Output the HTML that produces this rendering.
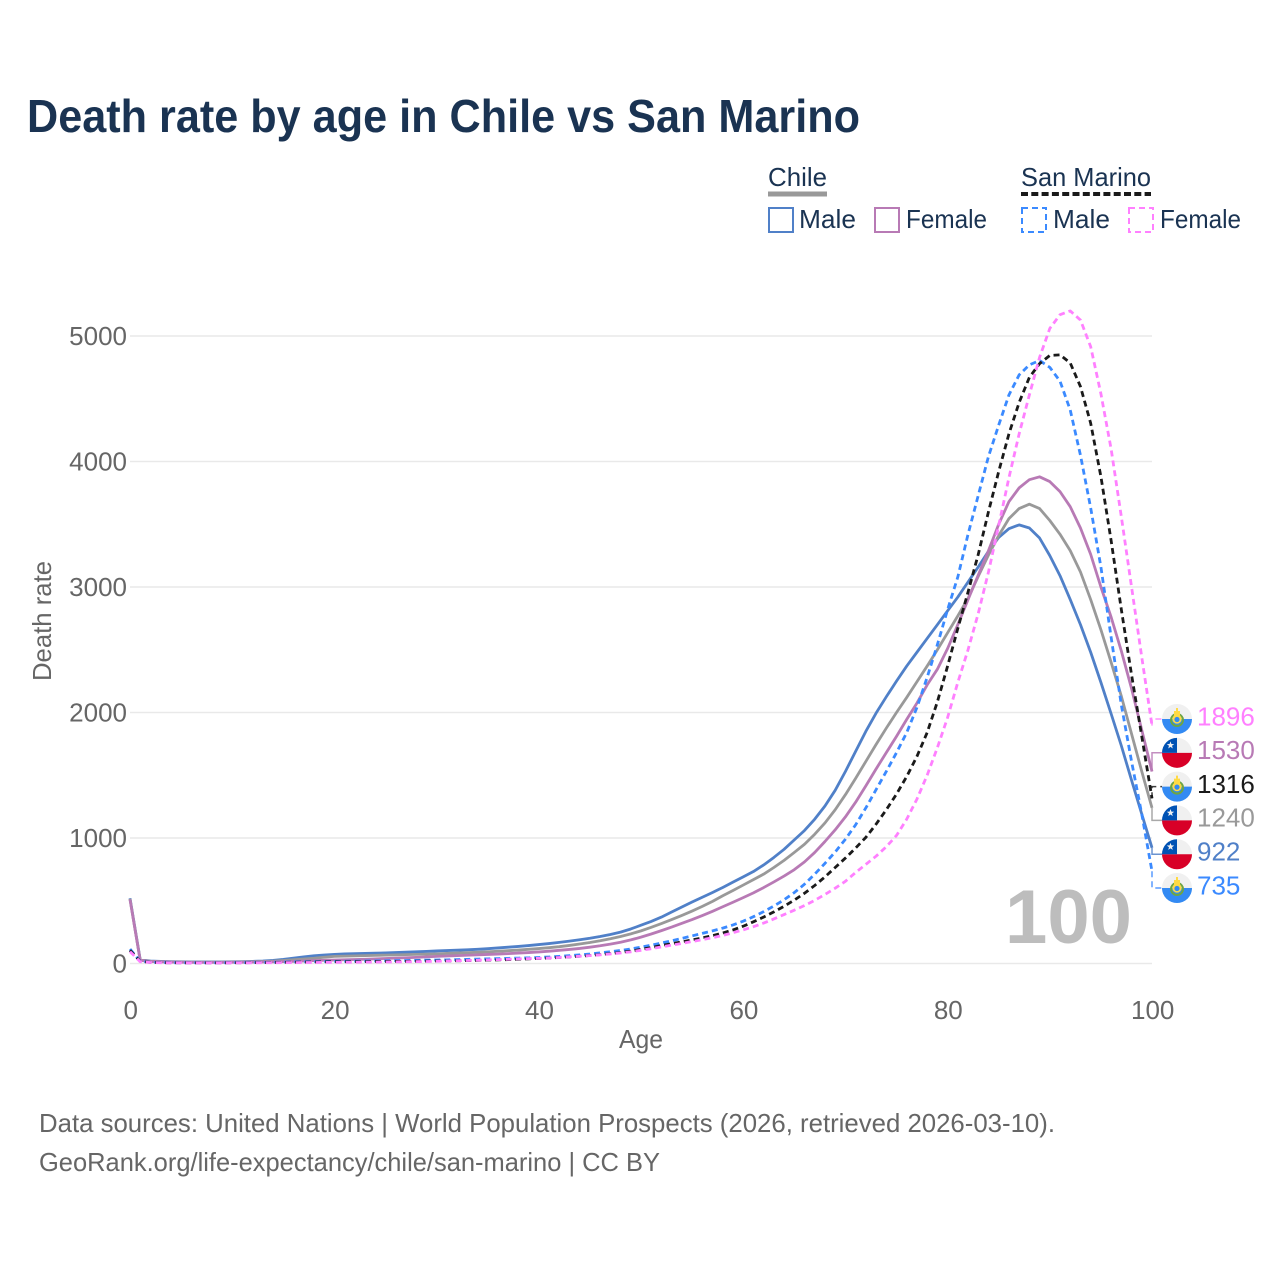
<!DOCTYPE html>
<html lang="en">
<head>
<meta charset="utf-8">
<title>Death rate by age in Chile vs San Marino</title>
<style>
html,body{margin:0;padding:0;background:#fff;}
svg{display:block;font-family:"Liberation Sans",sans-serif;}
</style>
</head>
<body>
<svg id="chart" width="1280" height="1280" viewBox="0 0 1280 1280" xmlns="http://www.w3.org/2000/svg">
  <rect x="0" y="0" width="1280" height="1280" fill="#ffffff"/>
  <text x="27" y="132" font-size="46" font-weight="700" fill="#1a3352" textLength="833" lengthAdjust="spacingAndGlyphs">Death rate by age in Chile vs San Marino</text>

  <g font-size="26" fill="#1a3352">
    <text x="768" y="186" textLength="59" lengthAdjust="spacingAndGlyphs">Chile</text>
    <line x1="768" y1="194" x2="827" y2="194" stroke="#999999" stroke-width="5"/>
    <text x="1021" y="186" textLength="130" lengthAdjust="spacingAndGlyphs">San Marino</text>
    <line x1="1021" y1="194" x2="1151" y2="194" stroke="#1a1a1a" stroke-width="4" stroke-dasharray="7 3.3"/>
    <rect x="769" y="208" width="24" height="24" fill="none" stroke="#5080c8" stroke-width="2"/>
    <text x="799" y="228" textLength="57" lengthAdjust="spacingAndGlyphs">Male</text>
    <rect x="875" y="208" width="24" height="24" fill="none" stroke="#b87ab5" stroke-width="2"/>
    <text x="906" y="228" textLength="81" lengthAdjust="spacingAndGlyphs">Female</text>
    <rect x="1022" y="208" width="24" height="24" fill="none" stroke="#3b8aff" stroke-width="2" stroke-dasharray="6 4"/>
    <text x="1053" y="228" textLength="57" lengthAdjust="spacingAndGlyphs">Male</text>
    <rect x="1129" y="208" width="24" height="24" fill="none" stroke="#ff80ff" stroke-width="2" stroke-dasharray="6 4"/>
    <text x="1160" y="228" textLength="81" lengthAdjust="spacingAndGlyphs">Female</text>
  </g>

  <g id="grid"></g>
  <g id="yticks" font-size="26" fill="#666666" text-anchor="end"></g>
  <g id="xticks" font-size="26" fill="#666666" text-anchor="middle"></g>
  <text transform="translate(51,621) rotate(-90)" text-anchor="middle" font-size="26" fill="#666666" textLength="120" lengthAdjust="spacingAndGlyphs">Death rate</text>
  <text x="641" y="1048" text-anchor="middle" font-size="26" fill="#666666" textLength="44" lengthAdjust="spacingAndGlyphs">Age</text>

  <text id="year" x="1005" y="943" font-size="76" font-weight="700" fill="#bdbdbd" textLength="127" lengthAdjust="spacingAndGlyphs"></text>
  <g id="series" fill="none"></g>
  <g id="endlabels"></g>

  <g font-size="26" fill="#666666">
    <text x="39" y="1132" textLength="1016" lengthAdjust="spacingAndGlyphs">Data sources: United Nations | World Population Prospects (2026, retrieved 2026-03-10).</text>
    <text x="39" y="1171" textLength="621" lengthAdjust="spacingAndGlyphs">GeoRank.org/life-expectancy/chile/san-marino | CC BY</text>
  </g>
</svg>

<script>
const yTickValues = [0, 1000, 2000, 3000, 4000, 5000];
const xTickValues = [0, 20, 40, 60, 80, 100];
const ages = [0,1,2,3,4,5,6,7,8,9,10,11,12,13,14,15,16,17,18,19,20,21,22,23,24,25,26,27,28,29,30,31,32,33,34,35,36,37,38,39,40,41,42,43,44,45,46,47,48,49,50,51,52,53,54,55,56,57,58,59,60,61,62,63,64,65,66,67,68,69,70,71,72,73,74,75,76,77,78,79,80,81,82,83,84,85,86,87,88,89,90,91,92,93,94,95,96,97,98,99,100];

const chileMale = [520,30,20,17,15,14,13,13,13,13,14,15,17,20,25,33,43,53,62,68,
  73,76,78,80,82,84,87,90,93,96,
  100,103,106,109,113,118,124,130,136,143,
  151,159,168,178,189,201,215,231,250,275,
  305,335,370,410,450,490,528,566,606,648,
  690,733,785,845,910,985,1060,1150,1255,1380,
  1530,1690,1850,1995,2125,2250,2370,2480,2590,2700,
  2810,2920,3040,3160,3285,3395,3465,3495,3470,3390,
  3250,3090,2900,2700,2480,2240,1990,1735,1460,1190,922];
const chileBoth = [515,27,18,15,13,12,11,11,11,11,12,13,14,16,19,24,30,36,42,50,
  57,59,61,63,65,67,69,71,73,75,
  77,80,83,86,89,93,97,102,107,113,
  119,126,134,144,155,167,181,197,215,236,
  260,288,318,350,383,418,455,495,540,582,
  625,668,712,765,822,885,950,1030,1120,1225,
  1345,1475,1610,1745,1875,2000,2120,2245,2370,2500,
  2635,2770,2910,3085,3255,3410,3545,3625,3660,3625,
  3530,3420,3290,3120,2900,2660,2400,2130,1830,1530,1240];
const chileFemale = [510,25,16,13,11,10,9,9,9,9,10,10,11,12,13,15,17,20,23,26,
  28,30,32,34,37,40,43,46,49,53,
  57,60,63,66,69,72,75,79,83,87,
  92,98,105,112,120,130,141,154,169,188,
  210,235,262,290,320,350,382,416,452,488,
  525,563,605,650,697,748,810,885,972,1065,
  1168,1285,1415,1550,1680,1810,1945,2075,2220,2345,
  2510,2700,2900,3095,3290,3500,3680,3790,3855,3878,
  3840,3760,3640,3470,3260,3000,2760,2490,2190,1860,1530];
const sanMarinoMale = [115,18,10,8,7,6,6,6,6,6,7,7,8,9,10,11,13,14,15,16,
  17,18,19,20,21,22,23,24,25,27,
  28,29,31,33,35,37,39,41,43,45,
  48,52,57,63,69,76,85,94,104,116,
  130,146,163,181,200,220,240,260,282,307,
  337,373,413,458,508,565,632,712,798,888,
  990,1105,1240,1385,1530,1680,1840,2040,2280,2540,
  2820,3080,3420,3730,4040,4290,4530,4690,4770,4805,
  4750,4640,4410,4050,3630,3160,2600,2060,1610,1190,735];
const sanMarinoBoth = [105,16,9,7,6,6,5,5,5,5,6,6,7,7,8,9,10,11,12,13,
  14,14,15,15,16,16,17,17,18,19,
  20,21,22,23,25,27,29,31,34,37,
  40,44,48,53,58,64,71,79,88,99,
  112,127,143,158,172,188,204,222,243,267,
  297,332,370,411,456,505,560,622,690,765,
  840,920,1005,1110,1225,1350,1490,1650,1840,2085,
  2370,2670,2960,3260,3600,3920,4220,4470,4670,4780,
  4845,4850,4785,4597,4305,3880,3370,2820,2300,1810,1316];
const sanMarinoFemale = [95,14,8,6,5,5,4,4,4,4,5,5,5,6,6,7,7,8,8,9,
  9,10,10,11,11,12,13,14,15,16,
  18,20,22,24,26,29,31,34,37,39,
  41,44,48,53,58,63,69,76,84,93,
  105,118,132,146,160,175,190,205,224,245,
  268,293,322,355,390,425,462,503,550,600,
  655,725,790,855,930,1020,1150,1310,1500,1720,
  1960,2240,2500,2790,3120,3490,3870,4220,4530,4830,
  5060,5170,5200,5127,4915,4540,4100,3560,3000,2440,1896];

const seriesDefs = [
  {key:'chile-male', values:chileMale, color:'#5080c8', dashed:false, flag:'chile'},
  {key:'chile-both', values:chileBoth, color:'#999999', dashed:false, flag:'chile'},
  {key:'chile-female', values:chileFemale, color:'#b87ab5', dashed:false, flag:'chile'},
  {key:'san-marino-male', values:sanMarinoMale, color:'#3b8aff', dashed:true, flag:'sanmarino'},
  {key:'san-marino-both', values:sanMarinoBoth, color:'#1a1a1a', dashed:true, flag:'sanmarino'},
  {key:'san-marino-female', values:sanMarinoFemale, color:'#ff80ff', dashed:true, flag:'sanmarino'}
];

const NS = 'http://www.w3.org/2000/svg';
const xScale = v => 130 + (v - 0) * (1152 - 130) / 100;
const yScale = v => 963.5 - v * (963.5 - 336) / 5000;

function make(tag, attrs, parent) {
  const el = document.createElementNS(NS, tag);
  for (const k in attrs) el.setAttribute(k, attrs[k]);
  parent.appendChild(el);
  return el;
}

const gridGroup = document.getElementById('grid');
const yGroup = document.getElementById('yticks');
const xGroup = document.getElementById('xticks');
const seriesGroup = document.getElementById('series');
const endGroup = document.getElementById('endlabels');

yTickValues.forEach(v => {
  const ln = make('line', {x1:xScale(0), x2:xScale(100), y1:yScale(v), y2:yScale(v), stroke:'#e9e9e9', 'stroke-width':1.5}, gridGroup);
  
  
  const t = make('text', {x:127, y:yScale(v) + 9}, yGroup);
  
  
  t.textContent = v;
});

xTickValues.forEach(v => {
  const t = make('text', {x:xScale(v) + 0.7, y:1019}, xGroup);
  
  
  t.textContent = v;
});

const yearLabel = document.getElementById('year');
yearLabel.textContent = ages[ages.length - 1];

seriesDefs.forEach(s => {
  const d = s.values.map((v, i) => (i ? 'L' : 'M') + xScale(ages[i]).toFixed(2) + ' ' + yScale(v).toFixed(2)).join('');
  const p = make('path', {d:d, stroke:s.color, 'stroke-width':2.8, 'stroke-linejoin':'round'}, seriesGroup);
  if (s.dashed) p.setAttribute('stroke-dasharray', '6 4');
  
  
});

function drawFlag(kind, cx, cy, parent) {
  const r = 15;
  const g = make('g', {}, parent);
  
  
  make('circle', {cx:cx, cy:cy, r:r, fill:'#f0f0f0'}, g);
  if (kind === 'chile') {
    make('path', {d:`M${cx-r} ${cy}A${r} ${r} 0 0 0 ${cx+r} ${cy}Z`, fill:'#d80027'}, g);
    make('path', {d:`M${cx-r} ${cy}A${r} ${r} 0 0 1 ${cx} ${cy-r}L${cx} ${cy}Z`, fill:'#0052b4'}, g);
    const sx = cx - 6.5, sy = cy - 7.5, pts = [];
    for (let i = 0; i < 10; i++) {
      const rad = i % 2 ? 1.6 : 3.9, a = -Math.PI / 2 + i * Math.PI / 5;
      pts.push((sx + rad * Math.cos(a)).toFixed(2) + ',' + (sy + rad * Math.sin(a)).toFixed(2));
    }
    make('polygon', {points:pts.join(' '), fill:'#f0f0f0'}, g);
  } else {
    make('path', {d:`M${cx-r} ${cy}A${r} ${r} 0 0 0 ${cx+r} ${cy}Z`, fill:'#338af3'}, g);
    make('circle', {cx:cx, cy:cy + 1, r:6, fill:'none', stroke:'#6da544', 'stroke-width':2}, g);
    make('circle', {cx:cx, cy:cy, r:4.6, fill:'#ffda44'}, g);
    make('rect', {x:cx - 3, y:cy - 8, width:6, height:5, fill:'#ffda44'}, g);
    make('rect', {x:cx - 1, y:cy - 11, width:2, height:3, fill:'#ffda44'}, g);
    make('circle', {cx:cx, cy:cy + 0.5, r:2.6, fill:'#338af3'}, g);
  }
}

const sorted = seriesDefs.slice().sort((a, b) => b.values[b.values.length - 1] - a.values[a.values.length - 1]);
const meanY = sorted.reduce((sum, s) => sum + yScale(s.values[s.values.length - 1]), 0) / sorted.length;
sorted.forEach((s, i) => {
  const last = s.values[s.values.length - 1];
  const ly = meanY - 0.2 + (i - (sorted.length - 1) / 2) * 33.8;
  const ey = yScale(last);
  const conn = make('path', {d:`M${xScale(100)} ${ey.toFixed(1)}L${xScale(100)} ${ly.toFixed(1)}L1162 ${ly.toFixed(1)}`, fill:'none', stroke:s.color, 'stroke-width':1.5, opacity:0.85}, endGroup);
  if (s.dashed) conn.setAttribute('stroke-dasharray', '6 4');
  
  
  drawFlag(s.flag, 1177, ly, endGroup);
  const t = make('text', {x:1197, y:ly + 6.3, 'font-size':26, fill:s.color}, endGroup);
  
  
  t.textContent = last;
});
</script>
</body>
</html>
